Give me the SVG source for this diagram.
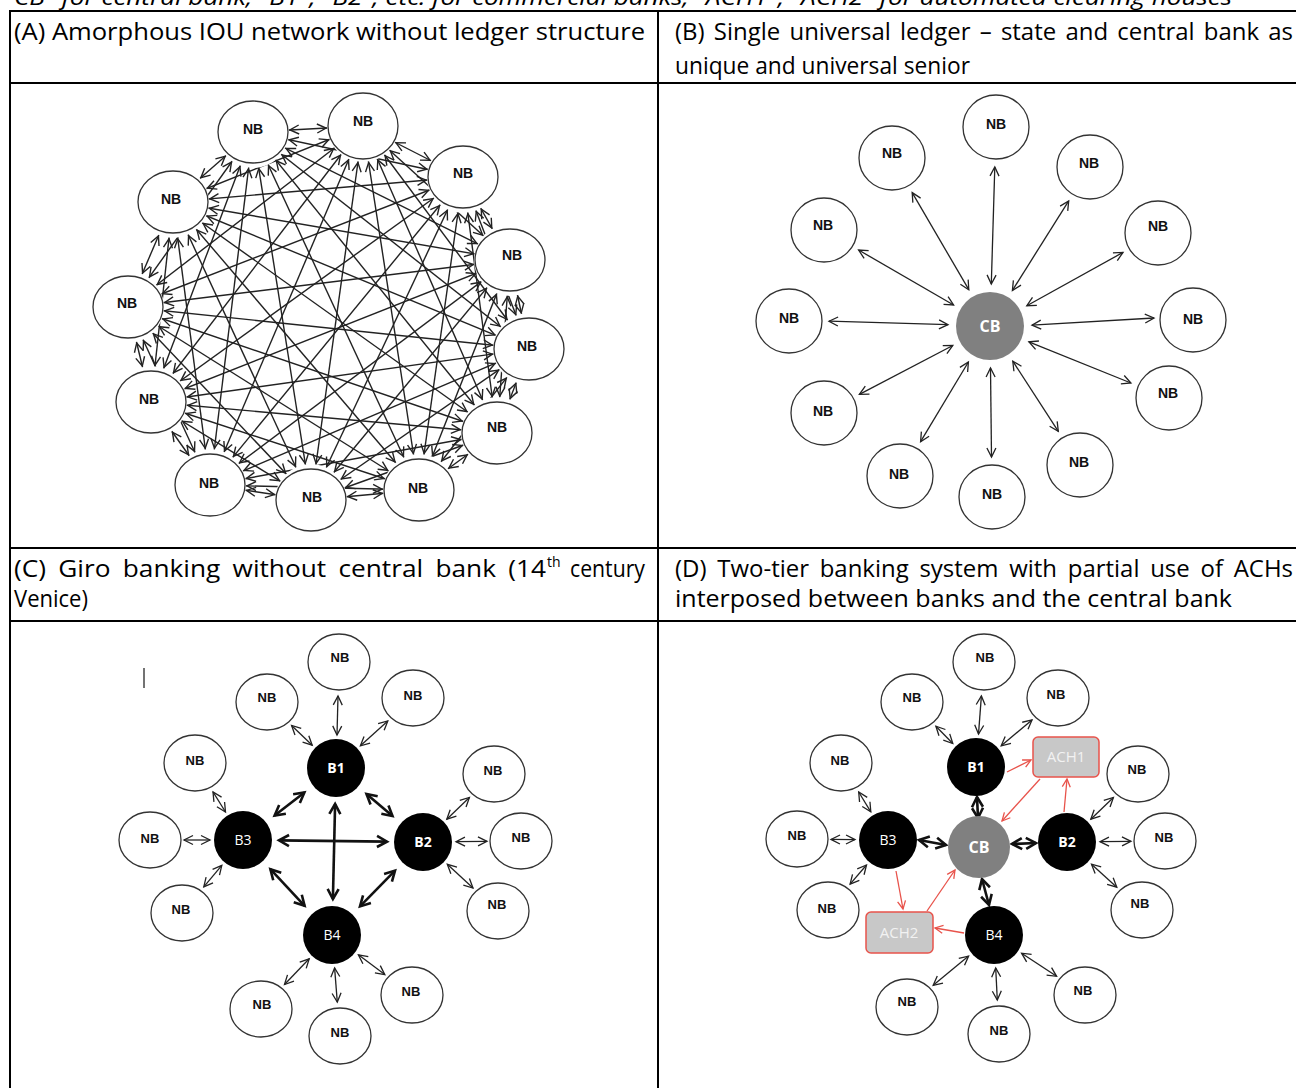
<svg xmlns="http://www.w3.org/2000/svg" width="1296" height="1088" viewBox="0 0 1296 1088">
<style>
.tb{stroke:#000;stroke-width:2;fill:none}
.hdr{font-family:"Open Sans","Liberation Sans",sans-serif;font-size:24px;fill:#000}
.cap{font-family:"Open Sans","Liberation Sans",sans-serif;font-size:22px;font-style:italic;fill:#000}
.ln{stroke:#222;stroke-width:1.3;fill:none}
.lnA{stroke-width:1.4;marker-start:url(#mkA);marker-end:url(#mkA)}
.lnS{marker-start:url(#mk);marker-end:url(#mk)}
.lnT{stroke:#111;stroke-width:2.6;fill:none;marker-start:url(#mkT);marker-end:url(#mkT)}
.red{stroke:#e8534b;stroke-width:1.3;fill:none;marker-end:url(#mkR)}
.nb{fill:#fff;stroke:#333;stroke-width:1.3}
.nbt{font-family:"Liberation Sans",Arial,sans-serif;font-weight:bold;font-size:14px;fill:#111;text-anchor:middle}
.nbs{font-family:"Liberation Sans",Arial,sans-serif;font-weight:bold;font-size:13px;fill:#111;text-anchor:middle}
.bk{fill:#000}
.bkt{font-family:"Open Sans","Liberation Sans",sans-serif;font-size:14px;fill:#fff;text-anchor:middle}
.cb{fill:#808080}
.cbt{font-family:"Open Sans","Liberation Sans",sans-serif;font-weight:bold;font-size:16px;fill:#fff;text-anchor:middle}
.ach{fill:#c8c8c8;stroke:#e8534b;stroke-width:1.5}
.acht{font-family:"Open Sans","Liberation Sans",sans-serif;font-size:15px;fill:#f2f2f2;text-anchor:middle}
</style>
<defs>
<marker id="mkA" markerUnits="userSpaceOnUse" orient="auto-start-reverse" refX="37" refY="0" markerWidth="10" markerHeight="10" overflow="visible"><path d="M-9,-4.5 L0,0 L-9,4.5" fill="none" stroke="#222" stroke-width="1.4"/></marker>
<marker id="mk" markerUnits="userSpaceOnUse" orient="auto-start-reverse" refX="0" refY="0" markerWidth="10" markerHeight="10" overflow="visible"><path d="M-9,-4.5 L0,0 L-9,4.5" fill="none" stroke="#222" stroke-width="1.3"/></marker>
<marker id="mkT" markerUnits="userSpaceOnUse" orient="auto-start-reverse" refX="0" refY="0" markerWidth="10" markerHeight="10" overflow="visible"><path d="M-10,-5.5 L0,0 L-10,5.5" fill="none" stroke="#111" stroke-width="2.6"/></marker>
<marker id="mkR" markerUnits="userSpaceOnUse" orient="auto" refX="0" refY="0" markerWidth="10" markerHeight="10" overflow="visible"><path d="M-8,-4 L0,0 L-8,4" fill="none" stroke="#e8534b" stroke-width="1.3"/></marker>
<mask id="mA" maskUnits="userSpaceOnUse" x="10" y="83" width="648" height="465">
<rect x="10" y="83" width="648" height="465" fill="#fff"/>
<g fill="#000">
<circle cx="253" cy="132" r="36"/><circle cx="363" cy="126" r="36"/><circle cx="463" cy="177" r="36"/><circle cx="510" cy="260" r="36"/>
<circle cx="529" cy="349" r="36"/><circle cx="497" cy="433" r="36"/><circle cx="419" cy="490" r="36"/><circle cx="311" cy="500" r="36"/>
<circle cx="210" cy="485" r="36"/><circle cx="151" cy="402" r="36"/><circle cx="128" cy="307" r="36"/><circle cx="173" cy="202" r="36"/>
</g>
</mask>
</defs>
<rect width="1296" height="1088" fill="#fff"/>
<text class="cap" x="4" y="5" textLength="1228" lengthAdjust="spacingAndGlyphs">"CB" for central bank; "B1", "B2", etc. for commercial banks; "ACH1", "ACH2" for automated clearing houses</text>
<g id="table">
<line class="tb" x1="10" y1="11" x2="1296" y2="11"/>
<line class="tb" x1="10" y1="83" x2="1296" y2="83"/>
<line class="tb" x1="10" y1="548" x2="1296" y2="548"/>
<line class="tb" x1="10" y1="621" x2="1296" y2="621"/>
<line class="tb" x1="10" y1="10" x2="10" y2="1088"/>
<line class="tb" x1="658" y1="10" x2="658" y2="1088"/>
</g>
<g id="headers">
<text class="hdr" x="14" y="40" textLength="631" lengthAdjust="spacingAndGlyphs">(A) Amorphous IOU network without ledger structure</text>
<text class="hdr" x="675" y="40" word-spacing="3" textLength="618" lengthAdjust="spacingAndGlyphs">(B) Single universal ledger – state and central bank as</text>
<text class="hdr" x="675" y="74" textLength="295" lengthAdjust="spacingAndGlyphs">unique and universal senior</text>
<text class="hdr" x="14" y="577" word-spacing="5" textLength="532" lengthAdjust="spacingAndGlyphs">(C) Giro banking without central bank (14</text>
<text class="hdr" x="547" y="567" style="font-size:14px">th</text>
<text class="hdr" x="570" y="577" textLength="75" lengthAdjust="spacingAndGlyphs">century</text>
<text class="hdr" x="14" y="607" textLength="74" lengthAdjust="spacingAndGlyphs">Venice)</text>
<text class="hdr" x="675" y="577" word-spacing="4.5" textLength="618" lengthAdjust="spacingAndGlyphs">(D) Two-tier banking system with partial use of ACHs</text>
<text class="hdr" x="675" y="607" textLength="557" lengthAdjust="spacingAndGlyphs">interposed between banks and the central bank</text>
</g>

<!-- Panel A -->
<g id="connectors-A" class="ln" mask="url(#mA)">
<g class="lnA">
<line x1="253" y1="132" x2="363" y2="126"/><line x1="253" y1="132" x2="463" y2="177"/><line x1="253" y1="132" x2="510" y2="260"/><line x1="253" y1="132" x2="529" y2="349"/>
<line x1="253" y1="132" x2="497" y2="433"/><line x1="253" y1="132" x2="419" y2="490"/><line x1="253" y1="132" x2="311" y2="500"/><line x1="253" y1="132" x2="210" y2="485"/>
<line x1="253" y1="132" x2="151" y2="402"/><line x1="253" y1="132" x2="128" y2="307"/><line x1="253" y1="132" x2="173" y2="202"/>
<line x1="363" y1="126" x2="463" y2="177"/><line x1="363" y1="126" x2="510" y2="260"/><line x1="363" y1="126" x2="529" y2="349"/><line x1="363" y1="126" x2="497" y2="433"/>
<line x1="363" y1="126" x2="419" y2="490"/><line x1="363" y1="126" x2="311" y2="500"/><line x1="363" y1="126" x2="210" y2="485"/><line x1="363" y1="126" x2="151" y2="402"/>
<line x1="363" y1="126" x2="128" y2="307"/><line x1="363" y1="126" x2="173" y2="202"/>
<line x1="463" y1="177" x2="510" y2="260"/><line x1="463" y1="177" x2="529" y2="349"/><line x1="463" y1="177" x2="497" y2="433"/><line x1="463" y1="177" x2="419" y2="490"/>
<line x1="463" y1="177" x2="311" y2="500"/><line x1="463" y1="177" x2="210" y2="485"/><line x1="463" y1="177" x2="151" y2="402"/><line x1="463" y1="177" x2="128" y2="307"/>
<line x1="463" y1="177" x2="173" y2="202"/>
<line x1="510" y1="260" x2="529" y2="349"/><line x1="510" y1="260" x2="497" y2="433"/><line x1="510" y1="260" x2="419" y2="490"/><line x1="510" y1="260" x2="311" y2="500"/>
<line x1="510" y1="260" x2="210" y2="485"/><line x1="510" y1="260" x2="151" y2="402"/><line x1="510" y1="260" x2="128" y2="307"/><line x1="510" y1="260" x2="173" y2="202"/>
<line x1="529" y1="349" x2="497" y2="433"/><line x1="529" y1="349" x2="419" y2="490"/><line x1="529" y1="349" x2="311" y2="500"/><line x1="529" y1="349" x2="210" y2="485"/>
<line x1="529" y1="349" x2="151" y2="402"/><line x1="529" y1="349" x2="128" y2="307"/><line x1="529" y1="349" x2="173" y2="202"/>
<line x1="497" y1="433" x2="419" y2="490"/><line x1="497" y1="433" x2="311" y2="500"/><line x1="497" y1="433" x2="210" y2="485"/><line x1="497" y1="433" x2="151" y2="402"/>
<line x1="497" y1="433" x2="128" y2="307"/><line x1="497" y1="433" x2="173" y2="202"/>
<line x1="419" y1="490" x2="311" y2="500"/><line x1="419" y1="490" x2="210" y2="485"/><line x1="419" y1="490" x2="151" y2="402"/><line x1="419" y1="490" x2="128" y2="307"/>
<line x1="419" y1="490" x2="173" y2="202"/>
<line x1="311" y1="500" x2="210" y2="485"/><line x1="311" y1="500" x2="151" y2="402"/><line x1="311" y1="500" x2="128" y2="307"/><line x1="311" y1="500" x2="173" y2="202"/>
<line x1="210" y1="485" x2="151" y2="402"/><line x1="210" y1="485" x2="128" y2="307"/><line x1="210" y1="485" x2="173" y2="202"/>
<line x1="151" y1="402" x2="128" y2="307"/><line x1="151" y1="402" x2="173" y2="202"/>
<line x1="128" y1="307" x2="173" y2="202"/>
</g>
</g>
<g id="nodes-A">
<g id="a0"><ellipse class="nb" cx="253" cy="132" rx="35" ry="31"/><text class="nbt" x="253" y="134">NB</text></g>
<g id="a1"><ellipse class="nb" cx="363" cy="126" rx="35" ry="33"/><text class="nbt" x="363" y="126">NB</text></g>
<g id="a2"><ellipse class="nb" cx="463" cy="177" rx="35" ry="31"/><text class="nbt" x="463" y="178">NB</text></g>
<g id="a3"><ellipse class="nb" cx="510" cy="260" rx="35" ry="31"/><text class="nbt" x="512" y="260">NB</text></g>
<g id="a4"><ellipse class="nb" cx="529" cy="349" rx="35" ry="31"/><text class="nbt" x="527" y="351">NB</text></g>
<g id="a5"><ellipse class="nb" cx="497" cy="433" rx="35" ry="31"/><text class="nbt" x="497" y="432">NB</text></g>
<g id="a6"><ellipse class="nb" cx="419" cy="490" rx="35" ry="31"/><text class="nbt" x="418" y="493">NB</text></g>
<g id="a7"><ellipse class="nb" cx="311" cy="500" rx="35" ry="31"/><text class="nbt" x="312" y="502">NB</text></g>
<g id="a8"><ellipse class="nb" cx="210" cy="485" rx="35" ry="31"/><text class="nbt" x="209" y="488">NB</text></g>
<g id="a9"><ellipse class="nb" cx="151" cy="402" rx="35" ry="31"/><text class="nbt" x="149" y="404">NB</text></g>
<g id="a10"><ellipse class="nb" cx="128" cy="307" rx="35" ry="31"/><text class="nbt" x="127" y="308">NB</text></g>
<g id="a11"><ellipse class="nb" cx="173" cy="202" rx="35" ry="31"/><text class="nbt" x="171" y="204">NB</text></g>
</g>

<!-- Panel B -->
<g id="connectors-B" class="ln lnS">
<line x1="991.3" y1="284" x2="994.8" y2="167"/>
<line x1="968.8" y1="289.7" x2="912.2" y2="192.6"/>
<line x1="1012.4" y1="290.4" x2="1068.7" y2="200.9"/>
<line x1="953.6" y1="305" x2="858.6" y2="250"/>
<line x1="1026.8" y1="305.7" x2="1123" y2="252.4"/>
<line x1="948" y1="324.7" x2="829" y2="321.2"/>
<line x1="1032" y1="325.2" x2="1154" y2="318"/>
<line x1="952.8" y1="345.5" x2="859.4" y2="394.4"/>
<line x1="1028.9" y1="341.8" x2="1130.9" y2="383"/>
<line x1="968.4" y1="362" x2="920.6" y2="441.7"/>
<line x1="1012.8" y1="361.2" x2="1058.3" y2="431.4"/>
<line x1="990.5" y1="368" x2="991.5" y2="457"/>
</g>
<g id="nodes-B">
<g id="cbB"><circle class="cb" cx="990" cy="326" r="34"/><text class="cbt" x="990" y="332">CB</text></g>
<g id="b0"><ellipse class="nb" cx="996" cy="127" rx="33" ry="32"/><text class="nbt" x="996" y="129">NB</text></g>
<g id="b1"><ellipse class="nb" cx="892" cy="158" rx="33" ry="32"/><text class="nbt" x="892" y="158">NB</text></g>
<g id="b2"><ellipse class="nb" cx="1090" cy="167" rx="33" ry="32"/><text class="nbt" x="1089" y="168">NB</text></g>
<g id="b3"><ellipse class="nb" cx="824" cy="230" rx="33" ry="32"/><text class="nbt" x="823" y="230">NB</text></g>
<g id="b4"><ellipse class="nb" cx="1158" cy="233" rx="33" ry="32"/><text class="nbt" x="1158" y="231">NB</text></g>
<g id="b5"><ellipse class="nb" cx="789" cy="321" rx="33" ry="32"/><text class="nbt" x="789" y="323">NB</text></g>
<g id="b6"><ellipse class="nb" cx="1193" cy="320" rx="33" ry="32"/><text class="nbt" x="1193" y="324">NB</text></g>
<g id="b7"><ellipse class="nb" cx="824" cy="413" rx="33" ry="32"/><text class="nbt" x="823" y="416">NB</text></g>
<g id="b8"><ellipse class="nb" cx="1169" cy="398" rx="33" ry="32"/><text class="nbt" x="1168" y="398">NB</text></g>
<g id="b9"><ellipse class="nb" cx="900" cy="476" rx="33" ry="32"/><text class="nbt" x="899" y="479">NB</text></g>
<g id="b10"><ellipse class="nb" cx="1080" cy="465" rx="33" ry="32"/><text class="nbt" x="1079" y="467">NB</text></g>
<g id="b11"><ellipse class="nb" cx="992" cy="497" rx="33" ry="32"/><text class="nbt" x="992" y="499">NB</text></g>
</g>

<!-- Panel C -->
<line x1="144" y1="668" x2="144" y2="688" stroke="#444" stroke-width="1.5"/>
<g id="connectors-C">
<g class="ln lnS">
<line x1="338" y1="696" x2="337" y2="735"/>
<line x1="291.6" y1="725.5" x2="312.2" y2="745.2"/>
<line x1="387.8" y1="720.9" x2="360.4" y2="745.8"/>
<line x1="213" y1="791.9" x2="225.5" y2="812"/>
<line x1="469.4" y1="797.5" x2="446.8" y2="819.2"/>
<line x1="184" y1="840" x2="210" y2="840"/>
<line x1="487" y1="841.3" x2="456" y2="841.7"/>
<line x1="203.8" y1="886.9" x2="221.8" y2="865.3"/>
<line x1="473" y1="888" x2="447.3" y2="864.3"/>
<line x1="284.5" y1="984.5" x2="309.2" y2="958.8"/>
<line x1="384.8" y1="974.6" x2="358.4" y2="954.8"/>
<line x1="337.3" y1="1002.1" x2="334.6" y2="967.9"/>
</g>
<g class="lnT">
<line x1="304.4" y1="792.5" x2="274.6" y2="815.5"/>
<line x1="366.5" y1="793.9" x2="392.5" y2="816.1"/>
<line x1="335.1" y1="804" x2="332.9" y2="899"/>
<line x1="279" y1="840.4" x2="387" y2="841.6"/>
<line x1="270.4" y1="869.2" x2="304.6" y2="905.8"/>
<line x1="395" y1="870.6" x2="360" y2="906.4"/>
</g>
</g>
<g id="nodes-C">
<g id="cB1"><circle class="bk" cx="336" cy="768" r="29"/><text class="bkt" x="336" y="773" font-weight="bold">B1</text></g>
<g id="cB2"><circle class="bk" cx="423" cy="842" r="29"/><text class="bkt" x="423" y="847" font-weight="bold">B2</text></g>
<g id="cB3"><circle class="bk" cx="243" cy="840" r="29"/><text class="bkt" x="243" y="845">B3</text></g>
<g id="cB4"><circle class="bk" cx="332" cy="935" r="29"/><text class="bkt" x="332" y="940">B4</text></g>
<g id="c0"><ellipse class="nb" cx="339" cy="662" rx="31" ry="28"/><text class="nbs" x="340" y="662">NB</text></g>
<g id="c1"><ellipse class="nb" cx="267" cy="702" rx="31" ry="28"/><text class="nbs" x="267" y="702">NB</text></g>
<g id="c2"><ellipse class="nb" cx="413" cy="698" rx="31" ry="28"/><text class="nbs" x="413" y="700">NB</text></g>
<g id="c3"><ellipse class="nb" cx="195" cy="763" rx="31" ry="28"/><text class="nbs" x="195" y="765">NB</text></g>
<g id="c4"><ellipse class="nb" cx="494" cy="774" rx="31" ry="28"/><text class="nbs" x="493" y="775">NB</text></g>
<g id="c5"><ellipse class="nb" cx="150" cy="840" rx="31" ry="28"/><text class="nbs" x="150" y="843">NB</text></g>
<g id="c6"><ellipse class="nb" cx="521" cy="841" rx="31" ry="28"/><text class="nbs" x="521" y="842">NB</text></g>
<g id="c7"><ellipse class="nb" cx="182" cy="913" rx="31" ry="28"/><text class="nbs" x="181" y="914">NB</text></g>
<g id="c8"><ellipse class="nb" cx="498" cy="911" rx="31" ry="28"/><text class="nbs" x="497" y="909">NB</text></g>
<g id="c9"><ellipse class="nb" cx="261" cy="1009" rx="31" ry="28"/><text class="nbs" x="262" y="1009">NB</text></g>
<g id="c10"><ellipse class="nb" cx="412" cy="995" rx="31" ry="28"/><text class="nbs" x="411" y="996">NB</text></g>
<g id="c11"><ellipse class="nb" cx="340" cy="1036" rx="31" ry="28"/><text class="nbs" x="340" y="1037">NB</text></g>
</g>

<!-- Panel D -->
<g id="connectors-D">
<g class="ln lnS">
<line x1="981.4" y1="695.9" x2="978.5" y2="734.1"/>
<line x1="935.9" y1="726.2" x2="952.8" y2="743.5"/>
<line x1="1032" y1="719.9" x2="1001.2" y2="745.8"/>
<line x1="858.7" y1="792" x2="870.8" y2="811.8"/>
<line x1="1113.4" y1="797.5" x2="1090.8" y2="819.2"/>
<line x1="831" y1="839.4" x2="855" y2="839.6"/>
<line x1="1131" y1="841.3" x2="1100" y2="841.7"/>
<line x1="850.1" y1="884.2" x2="866.5" y2="865"/>
<line x1="1116.8" y1="887.2" x2="1091.5" y2="864.2"/>
<line x1="933.2" y1="985.3" x2="968.6" y2="956.1"/>
<line x1="1056.6" y1="976.3" x2="1021.6" y2="953.2"/>
<line x1="997.3" y1="1000" x2="995.7" y2="968"/>
</g>
<g class="lnT">
<line x1="977" y1="797" x2="978" y2="818"/>
<line x1="919" y1="840" x2="946" y2="845"/>
<line x1="1012" y1="844" x2="1036" y2="843"/>
<line x1="982" y1="879" x2="989" y2="905"/>
</g>
<g>
<line class="red" x1="1007" y1="772" x2="1031" y2="760"/>
<line class="red" x1="1064" y1="812" x2="1067" y2="779"/>
<line class="red" x1="1040" y1="779" x2="1002" y2="821"/>
<line class="red" x1="896" y1="871" x2="903" y2="909"/>
<line class="red" x1="964" y1="933" x2="935" y2="928"/>
<line class="red" x1="927" y1="911" x2="955" y2="870"/>
</g>
</g>
<g id="nodes-D">
<g id="dCB"><circle class="cb" cx="979" cy="847" r="31"/><text class="cbt" x="979" y="853">CB</text></g>
<g id="dB1"><circle class="bk" cx="976" cy="767" r="29"/><text class="bkt" x="976" y="772" font-weight="bold">B1</text></g>
<g id="dB2"><circle class="bk" cx="1067" cy="842" r="29"/><text class="bkt" x="1067" y="847" font-weight="bold">B2</text></g>
<g id="dB3"><circle class="bk" cx="888" cy="840" r="29"/><text class="bkt" x="888" y="845">B3</text></g>
<g id="dB4"><circle class="bk" cx="994" cy="935" r="29"/><text class="bkt" x="994" y="940">B4</text></g>
<g id="ACH1"><rect class="ach" x="1033" y="737" width="66" height="40" rx="5"/><text class="acht" x="1066" y="762">ACH1</text></g>
<g id="ACH2"><rect class="ach" x="866" y="912" width="67" height="41" rx="5"/><text class="acht" x="899" y="938">ACH2</text></g>
<g id="d0"><ellipse class="nb" cx="984" cy="662" rx="31" ry="28"/><text class="nbs" x="985" y="662">NB</text></g>
<g id="d1"><ellipse class="nb" cx="912" cy="702" rx="31" ry="28"/><text class="nbs" x="912" y="702">NB</text></g>
<g id="d2"><ellipse class="nb" cx="1058" cy="698" rx="31" ry="28"/><text class="nbs" x="1056" y="699">NB</text></g>
<g id="d3"><ellipse class="nb" cx="841" cy="763" rx="31" ry="28"/><text class="nbs" x="840" y="765">NB</text></g>
<g id="d4"><ellipse class="nb" cx="1138" cy="774" rx="31" ry="28"/><text class="nbs" x="1137" y="774">NB</text></g>
<g id="d5"><ellipse class="nb" cx="797" cy="839" rx="31" ry="28"/><text class="nbs" x="797" y="840">NB</text></g>
<g id="d6"><ellipse class="nb" cx="1165" cy="841" rx="31" ry="28"/><text class="nbs" x="1164" y="842">NB</text></g>
<g id="d7"><ellipse class="nb" cx="828" cy="910" rx="31" ry="28"/><text class="nbs" x="827" y="913">NB</text></g>
<g id="d8"><ellipse class="nb" cx="1142" cy="910" rx="31" ry="28"/><text class="nbs" x="1140" y="908">NB</text></g>
<g id="d9"><ellipse class="nb" cx="907" cy="1007" rx="31" ry="28"/><text class="nbs" x="907" y="1006">NB</text></g>
<g id="d10"><ellipse class="nb" cx="1085" cy="995" rx="31" ry="28"/><text class="nbs" x="1083" y="995">NB</text></g>
<g id="d11"><ellipse class="nb" cx="999" cy="1034" rx="31" ry="28"/><text class="nbs" x="999" y="1035">NB</text></g>
</g>
</svg>
